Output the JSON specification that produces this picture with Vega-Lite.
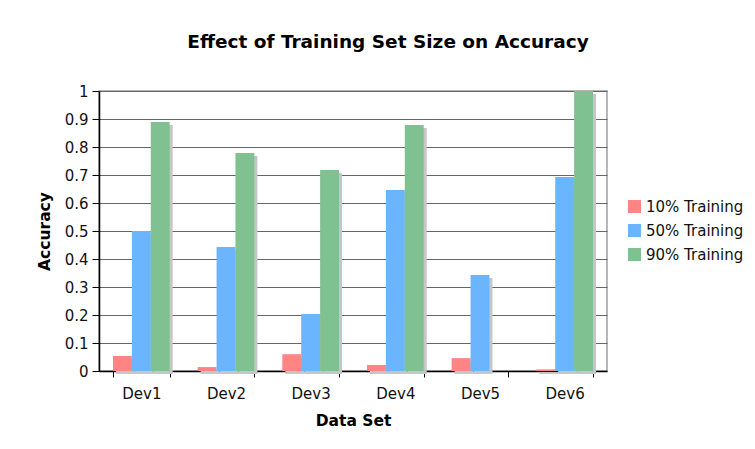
{
  "$schema": "https://vega.github.io/schema/vega-lite/v6.json",
  "width": 508,
  "height": 280,
  "autosize": {"type": "none"},
  "padding": {"left": 99, "top": 91, "right": 148, "bottom": 78},
  "background": "white",
  "config": {
    "font": "DejaVu Sans",
    "view": {"stroke": "#a0a0a0", "strokeWidth": 1.5}
  },
  "title": {
    "text": "Effect of Training Set Size on Accuracy",
    "fontSize": 18.5,
    "fontWeight": "bold",
    "color": "black",
    "anchor": "middle",
    "dx": 35,
    "offset": 33
  },
  "data": {
    "values": [
      {"dataset": "Dev1", "series": "10% Training", "accuracy": 0.054},
      {"dataset": "Dev1", "series": "50% Training", "accuracy": 0.5},
      {"dataset": "Dev1", "series": "90% Training", "accuracy": 0.889},
      {"dataset": "Dev2", "series": "10% Training", "accuracy": 0.014},
      {"dataset": "Dev2", "series": "50% Training", "accuracy": 0.443},
      {"dataset": "Dev2", "series": "90% Training", "accuracy": 0.779},
      {"dataset": "Dev3", "series": "10% Training", "accuracy": 0.06},
      {"dataset": "Dev3", "series": "50% Training", "accuracy": 0.204},
      {"dataset": "Dev3", "series": "90% Training", "accuracy": 0.718},
      {"dataset": "Dev4", "series": "10% Training", "accuracy": 0.021},
      {"dataset": "Dev4", "series": "50% Training", "accuracy": 0.646},
      {"dataset": "Dev4", "series": "90% Training", "accuracy": 0.879},
      {"dataset": "Dev5", "series": "10% Training", "accuracy": 0.046},
      {"dataset": "Dev5", "series": "50% Training", "accuracy": 0.343},
      {"dataset": "Dev5", "series": "90% Training", "accuracy": 0},
      {"dataset": "Dev6", "series": "10% Training", "accuracy": 0.006},
      {"dataset": "Dev6", "series": "50% Training", "accuracy": 0.693},
      {"dataset": "Dev6", "series": "90% Training", "accuracy": 1.0}
    ]
  },
  "encoding": {
    "x": {
      "field": "dataset",
      "type": "nominal",
      "scale": {"paddingInner": 0.33, "paddingOuter": 0.165},
      "axis": {
        "title": "Data Set",
        "titleFontSize": 15.5,
        "titleFontWeight": "bold",
        "titleColor": "black",
        "titlePadding": 12,
        "labelAngle": 0,
        "labelFontSize": 15,
        "labelColor": "#111",
        "labelPadding": 9,
        "tickBand": "extent",
        "tickSize": 6,
        "tickColor": "black",
        "domainColor": "black",
        "domainWidth": 1.5,
        "grid": false
      }
    },
    "y": {
      "field": "accuracy",
      "type": "quantitative",
      "scale": {"domain": [0, 1], "nice": false},
      "axis": {
        "title": "Accuracy",
        "titleFontSize": 15.5,
        "titleFontWeight": "bold",
        "titleColor": "black",
        "titlePadding": 12,
        "values": [0, 0.1, 0.2, 0.3, 0.4, 0.5, 0.6, 0.7, 0.8, 0.9, 1],
        "format": ".1~f",
        "labelFontSize": 15,
        "labelColor": "#111",
        "labelPadding": 4,
        "tickSize": 7,
        "tickColor": "black",
        "domainColor": "black",
        "domainWidth": 1.5,
        "grid": true,
        "gridColor": "#666",
        "gridWidth": 1
      }
    }
  },
  "layer": [
    {
      "mark": {"type": "bar", "color": "#c6c6c6", "yOffset": 3},
      "encoding": {
        "xOffset": {"field": "series", "type": "nominal", "scale": {"range": [3, 59.73]}}
      }
    },
    {
      "mark": {"type": "bar"},
      "encoding": {
        "xOffset": {"field": "series", "type": "nominal"},
        "color": {
          "field": "series",
          "type": "nominal",
          "scale": {"range": ["#FF8585", "#6BB5FF", "#80C191"]},
          "legend": {
            "title": null,
            "orient": "none",
            "legendX": 528,
            "legendY": 108,
            "padding": 0,
            "symbolType": "square",
            "symbolSize": 169,
            "symbolStrokeWidth": 0,
            "labelFontSize": 15,
            "labelColor": "#111",
            "labelOffset": 4,
            "rowPadding": 8
          }
        }
      }
    }
  ],
  "resolve": {"scale": {"xOffset": "independent"}}
}
